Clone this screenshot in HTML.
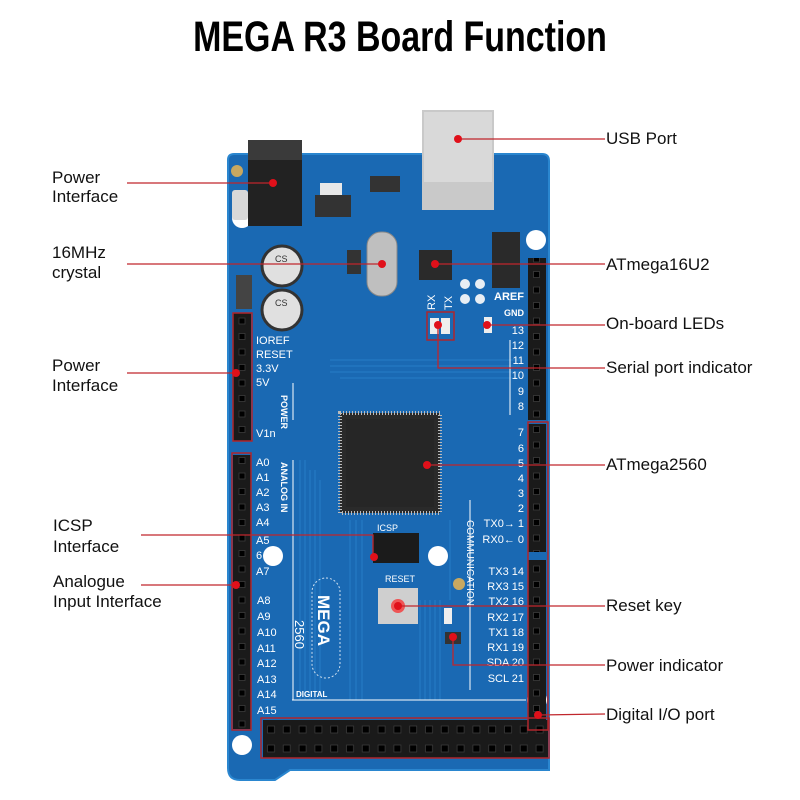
<!DOCTYPE html>
<html><head><meta charset="utf-8"><style>
html,body{margin:0;padding:0;background:#fff;}
svg{display:block}
.lb{font-family:"Liberation Sans",sans-serif;font-size:17px;fill:#111;}
.pin{font-family:"Liberation Sans",sans-serif;font-size:11px;fill:#fff;}
</style></head><body>
<svg width="800" height="800" viewBox="0 0 800 800" xmlns="http://www.w3.org/2000/svg">
<defs>
<pattern id="hp" width="15.5" height="15.5" patternUnits="userSpaceOnUse" x="234" y="313">
<rect width="15.5" height="15.5" fill="#1a1a1a"/><rect x="5" y="5" width="6" height="6" fill="#000" stroke="#3a3a3a" stroke-width="0.8"/>
</pattern>
<pattern id="hb" width="15.8" height="19" patternUnits="userSpaceOnUse" x="263" y="720">
<rect width="15.8" height="19" fill="#1a1a1a"/><rect x="4.5" y="6" width="7" height="7" fill="#000" stroke="#3a3a3a" stroke-width="0.8"/>
</pattern>
</defs>
<rect width="800" height="800" fill="#fff"/>
<text x="400" y="51" text-anchor="middle" font-family="Liberation Sans,sans-serif" font-weight="bold" font-size="43" transform="translate(400 0) scale(0.79 1) translate(-400 0)" fill="#000">MEGA R3 Board Function</text>

<!-- board -->
<path d="M234 154 H542 Q549 154 549 161 V728 L549 770 H290 L275 780 H240 Q228 780 228 768 V160 Q228 154 234 154 Z" fill="#1a69b3"/>
<path d="M234 154 H542 Q549 154 549 161 V728 L549 770 H290 L275 780 H240 Q228 780 228 768 V160 Q228 154 234 154 Z" fill="none" stroke="#2a86cf" stroke-width="2"/>
<g stroke="#2b82cc" stroke-width="1" fill="none" opacity="0.8">
<path d="M300 460 V700 M305 460 V700 M310 470 V700 M315 470 V700 M320 480 V700"/>
<path d="M420 600 V700 M425 600 V700 M430 600 V700 M435 600 V700 M440 600 V700"/>
<path d="M330 360 H520 M330 366 H520 M330 372 H520 M340 378 H520"/>
<path d="M350 520 V700 M356 520 V700 M362 520 V700 M450 520 V600"/>
</g>
<circle cx="242" cy="218" r="10" fill="#fff"/>
<circle cx="536" cy="240" r="10" fill="#fff"/>
<circle cx="273" cy="556" r="10" fill="#fff"/>
<circle cx="438" cy="556" r="10" fill="#fff"/>
<circle cx="537" cy="700" r="10" fill="#fff"/>
<circle cx="242" cy="745" r="10" fill="#fff"/>
<circle cx="237" cy="171" r="6" fill="#c8a860"/>
<rect x="248" y="140" width="54" height="86" fill="#222"/>
<rect x="248" y="140" width="54" height="20" fill="#3a3a3a"/>
<rect x="232" y="190" width="16" height="30" fill="#d8d8d8" rx="3"/>
<rect x="315" y="195" width="36" height="22" fill="#333"/>
<rect x="320" y="183" width="22" height="12" fill="#e8e8e8"/>
<rect x="370" y="176" width="30" height="16" fill="#333"/>
<rect x="422" y="110" width="72" height="100" fill="#c9c9c9"/>
<rect x="424" y="112" width="68" height="70" fill="#d9d9d9"/>
<circle cx="282" cy="266" r="20" fill="#e0e0e0" stroke="#333" stroke-width="3"/>
<circle cx="282" cy="310" r="20" fill="#e0e0e0" stroke="#333" stroke-width="3"/>
<text x="275" y="262" font-size="9" font-family="Liberation Sans" fill="#333">CS</text>
<text x="275" y="306" font-size="9" font-family="Liberation Sans" fill="#333">CS</text>
<rect x="236" y="275" width="16" height="34" fill="#444"/>
<rect x="367" y="232" width="30" height="64" rx="14" fill="#bfbfbf" stroke="#888"/>
<rect x="347" y="250" width="14" height="24" fill="#333"/>
<rect x="419" y="250" width="33" height="30" fill="#2a2a2a"/>
<rect x="492" y="232" width="28" height="56" fill="#2a2a2a"/>
<circle cx="465" cy="284" r="5" fill="#e8eef4"/><circle cx="480" cy="284" r="5" fill="#e8eef4"/>
<circle cx="465" cy="299" r="5" fill="#e8eef4"/><circle cx="480" cy="299" r="5" fill="#e8eef4"/>
<rect x="430" y="318" width="9" height="16" fill="#eee"/><rect x="441" y="318" width="9" height="16" fill="#eee"/>
<rect x="484" y="317" width="8" height="16" fill="#eee"/>
<text x="435" y="310" class="pin" transform="rotate(-90 435 310)">RX</text>
<text x="452" y="310" class="pin" transform="rotate(-90 452 310)">TX</text>
<text x="524" y="300" class="pin" text-anchor="end" style="font-weight:bold">AREF</text>
<text x="524" y="316" class="pin" text-anchor="end" style="font-weight:bold;font-size:9px">GND</text>
<rect x="340" y="413" width="100" height="100" fill="#2a2a2a" stroke="#bbb" stroke-width="4" stroke-dasharray="1 2"/>
<rect x="346" y="419" width="88" height="88" fill="#262626"/>
<rect x="373" y="533" width="46" height="30" fill="#1b1b1b"/>
<text x="377" y="531" class="pin" style="font-size:9px">ICSP</text>
<rect x="378" y="588" width="40" height="36" fill="#cfcfcf"/>
<circle cx="398" cy="606" r="7" fill="#ee5555"/>
<text x="385" y="582" class="pin" style="font-size:9px">RESET</text>
<rect x="444" y="608" width="8" height="16" fill="#eee"/>
<rect x="445" y="632" width="16" height="12" fill="#333"/>
<circle cx="459" cy="584" r="6" fill="#c8a860"/>
<rect x="312" y="578" width="28" height="100" rx="14" fill="none" stroke="#cfe0f0" stroke-dasharray="2 2"/>
<text x="318" y="595" font-family="Liberation Sans" font-weight="bold" font-size="17" fill="#fff" transform="rotate(90 318 595)">MEGA</text>
<text x="295" y="620" font-family="Liberation Sans" font-size="13" fill="#fff" transform="rotate(90 295 620)">2560</text>
<line x1="293" y1="383" x2="293" y2="420" stroke="#fff"/>
<line x1="293" y1="460" x2="293" y2="700" stroke="#fff"/>
<line x1="292" y1="700" x2="526" y2="700" stroke="#fff"/>
<line x1="470" y1="500" x2="470" y2="690" stroke="#fff"/>
<line x1="510" y1="340" x2="510" y2="415" stroke="#fff"/>
<text x="296" y="697" class="pin" style="font-size:8px;font-weight:bold">DIGITAL</text>
<text x="467" y="520" class="pin" style="font-size:10px" transform="rotate(90 467 520)">COMMUNICATION</text>
<text x="281" y="395" class="pin" style="font-size:9px;font-weight:bold" transform="rotate(90 281 395)">POWER</text>
<text x="281" y="462" class="pin" style="font-size:9px;font-weight:bold" transform="rotate(90 281 462)">ANALOG IN</text>
<!-- headers -->
<rect x="233" y="313" width="18" height="128" fill="url(#hp)"/>
<rect x="233" y="455" width="18" height="274" fill="url(#hp)"/>
<rect x="528" y="258" width="18" height="162" fill="url(#hp)"/>
<rect x="528" y="424" width="18" height="128" fill="url(#hp)"/>
<rect x="528" y="560" width="18" height="162" fill="url(#hp)"/>
<rect x="263" y="720" width="285" height="38" fill="url(#hb)"/>
<g class="pin">
<text x="256" y="344" class="pin">IOREF</text><text x="256" y="358" class="pin">RESET</text>
<text x="256" y="372" class="pin">3.3V</text><text x="256" y="386" class="pin">5V</text>
<text x="256" y="437" class="pin">V1n</text>
<text x="256" y="466" class="pin">A0</text><text x="256" y="481" class="pin">A1</text><text x="256" y="496" class="pin">A2</text>
<text x="256" y="511" class="pin">A3</text><text x="256" y="526" class="pin">A4</text><text x="256" y="544" class="pin">A5</text>
<text x="256" y="559" class="pin">6</text><text x="256" y="575" class="pin">A7</text>
<text x="257" y="604" class="pin">A8</text><text x="257" y="620" class="pin">A9</text><text x="257" y="636" class="pin">A10</text>
<text x="257" y="652" class="pin">A11</text><text x="257" y="667" class="pin">A12</text><text x="257" y="683" class="pin">A13</text>
<text x="257" y="698" class="pin">A14</text><text x="257" y="714" class="pin">A15</text>
</g>
<g>
<text x="524" y="334" class="pin" text-anchor="end">13</text><text x="524" y="349" class="pin" text-anchor="end">12</text>
<text x="524" y="364" class="pin" text-anchor="end">11</text><text x="524" y="379" class="pin" text-anchor="end">10</text>
<text x="524" y="395" class="pin" text-anchor="end">9</text><text x="524" y="410" class="pin" text-anchor="end">8</text>
<text x="524" y="436" class="pin" text-anchor="end">7</text><text x="524" y="452" class="pin" text-anchor="end">6</text>
<text x="524" y="467" class="pin" text-anchor="end">5</text><text x="524" y="482" class="pin" text-anchor="end">4</text>
<text x="524" y="497" class="pin" text-anchor="end">3</text><text x="524" y="512" class="pin" text-anchor="end">2</text>
<text x="524" y="527" class="pin" text-anchor="end">TX0→ 1</text><text x="524" y="543" class="pin" text-anchor="end">RX0← 0</text>
<text x="524" y="575" class="pin" text-anchor="end">TX3 14</text><text x="524" y="590" class="pin" text-anchor="end">RX3 15</text>
<text x="524" y="605" class="pin" text-anchor="end">TX2 16</text><text x="524" y="621" class="pin" text-anchor="end">RX2 17</text>
<text x="524" y="636" class="pin" text-anchor="end">TX1 18</text><text x="524" y="651" class="pin" text-anchor="end">RX1 19</text>
<text x="524" y="666" class="pin" text-anchor="end">SDA 20</text><text x="524" y="682" class="pin" text-anchor="end">SCL 21</text>
</g>
<g fill="none" stroke="#b0262c" stroke-width="1.5">
<rect x="233" y="313" width="19" height="128"/>
<rect x="232" y="453" width="19" height="277"/>
<rect x="427" y="312" width="27" height="28"/>
<rect x="261" y="718" width="288" height="40"/>
<rect x="528" y="422" width="20" height="308"/>
</g>
<g stroke="#c0262c" stroke-width="1.3" fill="none">
<line x1="458" y1="139" x2="605" y2="139"/>
<line x1="127" y1="183" x2="273" y2="183"/>
<line x1="127" y1="264" x2="382" y2="264"/>
<line x1="435" y1="264" x2="605" y2="264"/>
<line x1="487" y1="325" x2="605" y2="325"/>
<polyline points="438,325 438,368 605,368"/>
<line x1="127" y1="373" x2="236" y2="373"/>
<line x1="427" y1="465" x2="605" y2="465"/>
<polyline points="141,535 373,535 373,557"/>
<line x1="141" y1="585" x2="236" y2="585"/>
<line x1="398" y1="606" x2="605" y2="606"/>
<polyline points="453,637 453,665 605,665"/>
<line x1="538" y1="715" x2="605" y2="714"/>
</g>
<g fill="#e0101a">
<circle cx="458" cy="139" r="4"/><circle cx="273" cy="183" r="4"/><circle cx="382" cy="264" r="4"/>
<circle cx="435" cy="264" r="4"/><circle cx="487" cy="325" r="4"/><circle cx="438" cy="325" r="4"/>
<circle cx="236" cy="373" r="4"/><circle cx="427" cy="465" r="4"/><circle cx="374" cy="557" r="4"/>
<circle cx="236" cy="585" r="4"/><circle cx="398" cy="606" r="4"/><circle cx="453" cy="637" r="4"/>
<circle cx="538" cy="715" r="4"/>
</g>
<text class="lb" x="52" y="183">Power</text><text class="lb" x="52" y="202">Interface</text>
<text class="lb" x="52" y="258">16MHz</text><text class="lb" x="52" y="278">crystal</text>
<text class="lb" x="52" y="371">Power</text><text class="lb" x="52" y="391">Interface</text>
<text class="lb" x="53" y="531">ICSP</text><text class="lb" x="53" y="552">Interface</text>
<text class="lb" x="53" y="587">Analogue</text><text class="lb" x="53" y="607">Input Interface</text>
<text class="lb" x="606" y="144">USB Port</text>
<text class="lb" x="606" y="270">ATmega16U2</text>
<text class="lb" x="606" y="329">On-board LEDs</text>
<text class="lb" x="606" y="373">Serial port indicator</text>
<text class="lb" x="606" y="470">ATmega2560</text>
<text class="lb" x="606" y="611">Reset key</text>
<text class="lb" x="606" y="671">Power indicator</text>
<text class="lb" x="606" y="720">Digital I/O port</text>
</svg>
</body></html>
